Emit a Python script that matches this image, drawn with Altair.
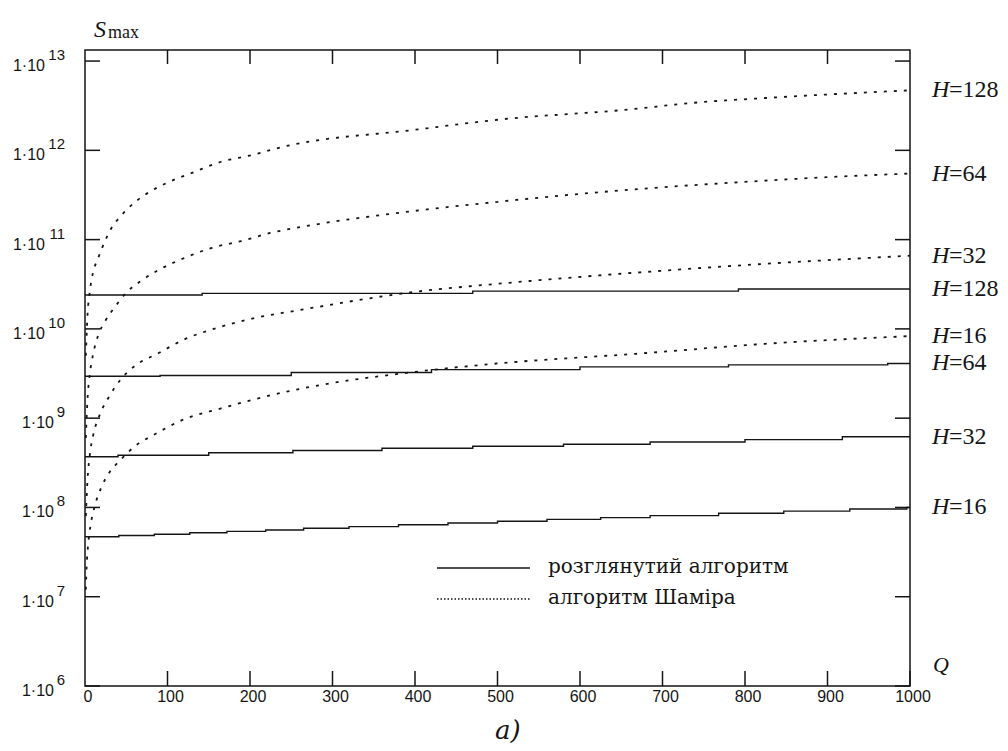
import altair as alt
import pandas as pd

INK = "#151515"
SERIF = "Liberation Serif"
CYR_SERIF = "DejaVu Serif"
SANS = "Liberation Sans"

# ---- "розглянутий алгоритм" (solid, stepwise) ----
solid16_q = [0, 41, 84, 127, 172, 219, 265, 320, 380, 440, 500, 560, 625, 685, 768, 847, 927, 996, 1000]
solid16_s = [4.7e7, 4.85e7, 5.0e7, 5.2e7, 5.4e7, 5.6e7, 5.85e7, 6.1e7, 6.4e7, 6.7e7, 7.0e7, 7.35e7,
             7.7e7, 8.1e7, 8.6e7, 9.1e7, 9.6e7, 1.0e8, 1.0e8]
solid32_q = [0, 40, 150, 252, 360, 470, 580, 685, 800, 918, 1000]
solid32_s = [3.7e8, 3.85e8, 4.1e8, 4.35e8, 4.6e8, 4.85e8, 5.1e8, 5.4e8, 5.75e8, 6.2e8, 6.2e8]
solid64_q = [0, 91, 250, 420, 600, 780, 973, 1000]
solid64_s = [2.95e9, 3.0e9, 3.25e9, 3.5e9, 3.75e9, 3.95e9, 4.1e9, 4.1e9]
solid128_q = [0, 142, 470, 792, 1000]
solid128_s = [2.4e10, 2.5e10, 2.65e10, 2.8e10, 2.8e10]

# ---- "алгоритм Шаміра" (dotted) ----
dot16_q = [1, 2, 4, 7, 12, 20, 30, 43, 61, 82, 120, 164, 201, 263, 400, 500, 673, 834, 1000]
dot16_s = [1.2e7, 2.2e7, 4e7, 6.5e7, 1.05e8, 1.7e8, 2.5e8, 3.4e8, 4.9e8, 6.4e8, 9.7e8, 1.28e9,
           1.59e9, 2.15e9, 3.3e9, 4.1e9, 5.3e9, 6.9e9, 8.3e9]
dot32_q = [1, 3, 6, 10, 18, 29, 43, 59, 90, 120, 156, 205, 261, 400, 500, 673, 802, 1000]
dot32_s = [8e7, 2e8, 4e8, 6.5e8, 1.1e9, 1.73e9, 2.7e9, 3.76e9, 5.4e9, 7.6e9, 1.0e10, 1.32e10,
           1.63e10, 2.6e10, 3.2e10, 4.3e10, 5.2e10, 6.6e10]
dot64_q = [1, 3, 6, 10, 16, 24, 37, 51, 69, 86, 120, 154, 189, 225, 263, 400, 500, 673, 794, 899, 1000]
dot64_s = [6e8, 1.6e9, 3.2e9, 5.3e9, 8.5e9, 1.2e10, 1.8e10, 2.6e10, 3.5e10, 4.4e10, 6.2e10, 8.1e10,
           9.6e10, 1.19e11, 1.39e11, 2.1e11, 2.65e11, 3.7e11, 4.4e11, 5.0e11, 5.5e11]
dot128_q = [1, 3, 6, 10, 15, 25, 31, 39, 47, 61, 80, 100, 132, 164, 201, 241, 400, 500, 673, 721,
            834, 927, 1000]
dot128_s = [5e9, 1.4e10, 2.7e10, 4.4e10, 5.9e10, 1.0e11, 1.3e11, 1.65e11, 2.0e11, 2.65e11, 3.5e11,
            4.35e11, 5.7e11, 7.4e11, 8.8e11, 1.1e12, 1.7e12, 2.2e12, 2.95e12, 3.3e12, 3.9e12,
            4.35e12, 4.7e12]

x_ticks = [0, 100, 200, 300, 400, 500, 600, 700, 800, 900, 1000]
y_exps = [6, 7, 8, 9, 10, 11, 12, 13]
legend_labels = ["розглянутий алгоритм", "алгоритм Шаміра"]
y_title_main, y_title_sub = "S", "max"
x_title = "Q"
panel_label = "а)"


def series(items):
    rows = []
    for h, qs, ss in items:
        for q, s in zip(qs, ss):
            rows.append({"Q": q, "S": s, "H": h})
    return pd.DataFrame(rows)


solid_df = series([(16, solid16_q, solid16_s), (32, solid32_q, solid32_s),
                   (64, solid64_q, solid64_s), (128, solid128_q, solid128_s)])
dot_df = series([(16, dot16_q, dot16_s), (32, dot32_q, dot32_s),
                 (64, dot64_q, dot64_s), (128, dot128_q, dot128_s)])

end_rows = []
for h, ss in [(128, dot128_s), (64, dot64_s), (32, dot32_s), (128, solid128_s),
              (16, dot16_s), (64, solid64_s), (32, solid32_s), (16, solid16_s)]:
    end_rows.append({"S": ss[-1], "num": "=" + str(h)})
end_df = pd.DataFrame(end_rows)

W, H = 825, 636
xs = alt.Scale(domain=[0, 1000], nice=False)
ys = alt.Scale(type="log", domain=[1e6, 1.33e13], nice=False)

X = lambda f: alt.X(f, scale=xs, axis=None)
Y = lambda f: alt.Y(f, scale=ys, axis=None)

solid = alt.Chart(solid_df).mark_line(interpolate="step-after", color=INK, strokeWidth=1.4).encode(
    x=X("Q:Q"), y=Y("S:Q"), detail="H:N")
dotted = alt.Chart(dot_df).mark_line(interpolate="monotone", color=INK, strokeWidth=1.8,
                                     strokeDash=[3, 7]).encode(
    x=X("Q:Q"), y=Y("S:Q"), detail="H:N")

ytick_df = pd.DataFrame({"v": [10.0 ** e for e in y_exps], "e": [str(e) for e in y_exps]})
xtick_df = pd.DataFrame({"q": x_ticks, "t": [str(t) for t in x_ticks]})

left_ticks = alt.Chart(ytick_df).mark_rule(color=INK, strokeWidth=1.5).encode(
    y=Y("v:Q"), x=alt.value(0), x2=alt.value(15))
right_ticks = alt.Chart(ytick_df).mark_rule(color=INK, strokeWidth=1.5).encode(
    y=Y("v:Q"), x=alt.value(W - 15), x2=alt.value(W))
top_ticks = alt.Chart(xtick_df).transform_filter("datum.q > 0 && datum.q < 1000").mark_rule(
    color=INK, strokeWidth=1.5).encode(x=X("q:Q"), y=alt.value(0), y2=alt.value(14))
bottom_ticks = alt.Chart(xtick_df).transform_filter("datum.q > 0").mark_rule(
    color=INK, strokeWidth=1.5).encode(x=X("q:Q"), y=alt.value(H - 15), y2=alt.value(H))

xlabels = alt.Chart(xtick_df).mark_text(font=SANS, fontSize=16, color=INK, baseline="top",
                                        align="center", dx=3).encode(
    x=X("q:Q"), y=alt.value(H + 3), text="t:N")

exp_lab = alt.Chart(ytick_df).mark_text(font=SANS, fontSize=15, color=INK, align="right",
                                        baseline="alphabetic", dy=-1).encode(
    y=Y("v:Q"), x=alt.value(-20), text="e:N")
base2 = alt.Chart(ytick_df).transform_filter("length(datum.e) == 2").mark_text(
    font=SANS, fontSize=16, color=INK, align="right", baseline="alphabetic", dy=10).encode(
    y=Y("v:Q"), x=alt.value(-40), text=alt.value("1·10"))
base1 = alt.Chart(ytick_df).transform_filter("length(datum.e) == 1").mark_text(
    font=SANS, fontSize=16, color=INK, align="right", baseline="alphabetic", dy=10).encode(
    y=Y("v:Q"), x=alt.value(-31), text=alt.value("1·10"))

h_lab = alt.Chart(end_df).mark_text(font=SERIF, fontSize=24, fontStyle="italic", color=INK,
                                    align="left", baseline="middle").encode(
    y=Y("S:Q"), x=alt.value(W + 22), text=alt.value("H"))
num_lab = alt.Chart(end_df).mark_text(font=SERIF, fontSize=24, color=INK, align="left",
                                      baseline="middle").encode(
    y=Y("S:Q"), x=alt.value(W + 39), text="num:N")

one = pd.DataFrame({"k": [0]})
s_main = alt.Chart(one).mark_text(font=SERIF, fontSize=24, fontStyle="italic", color=INK,
                                  align="left", baseline="alphabetic").encode(
    x=alt.value(9), y=alt.value(-13), text=alt.value(y_title_main))
s_sub = alt.Chart(one).mark_text(font=SERIF, fontSize=18, color=INK, align="left",
                                 baseline="alphabetic").encode(
    x=alt.value(23), y=alt.value(-12), text=alt.value(y_title_sub))
q_lab = alt.Chart(one).mark_text(font=SERIF, fontSize=22, fontStyle="italic", color=INK,
                                 align="left", baseline="alphabetic").encode(
    x=alt.value(W + 23), y=alt.value(H - 14), text=alt.value(x_title))
a_lab = alt.Chart(one).mark_text(font=CYR_SERIF, fontSize=26, fontStyle="italic", color=INK,
                                 align="left", baseline="alphabetic").encode(
    x=alt.value(410), y=alt.value(H + 53), text=alt.value(panel_label))

leg_solid = alt.Chart(one).mark_rule(color=INK, strokeWidth=1.5).encode(
    x=alt.value(352), x2=alt.value(445), y=alt.value(518))
leg_dot = alt.Chart(one).mark_rule(color=INK, strokeWidth=1.5, strokeDash=[1.5, 2]).encode(
    x=alt.value(352), x2=alt.value(445), y=alt.value(549))
leg_t1 = alt.Chart(one).mark_text(font=CYR_SERIF, fontSize=20, color=INK, align="left",
                                  baseline="middle").encode(
    x=alt.value(463), y=alt.value(517), text=alt.value(legend_labels[0]))
leg_t2 = alt.Chart(one).mark_text(font=CYR_SERIF, fontSize=20, color=INK, align="left",
                                  baseline="middle").encode(
    x=alt.value(463), y=alt.value(548), text=alt.value(legend_labels[1]))

chart = alt.layer(
    solid, dotted, left_ticks, right_ticks, top_ticks, bottom_ticks, xlabels,
    exp_lab, base2, base1, h_lab, num_lab, s_main, s_sub, q_lab, a_lab,
    leg_solid, leg_dot, leg_t1, leg_t2,
).properties(
    width=W, height=H,
    autosize=alt.AutoSizeParams(type="none"),
    padding={"left": 77, "top": 42, "right": 90, "bottom": 65},
    background="white",
).configure_view(stroke=INK, strokeWidth=1.5)

chart.save("out.html", embed_options={"renderer": "svg", "actions": False})
